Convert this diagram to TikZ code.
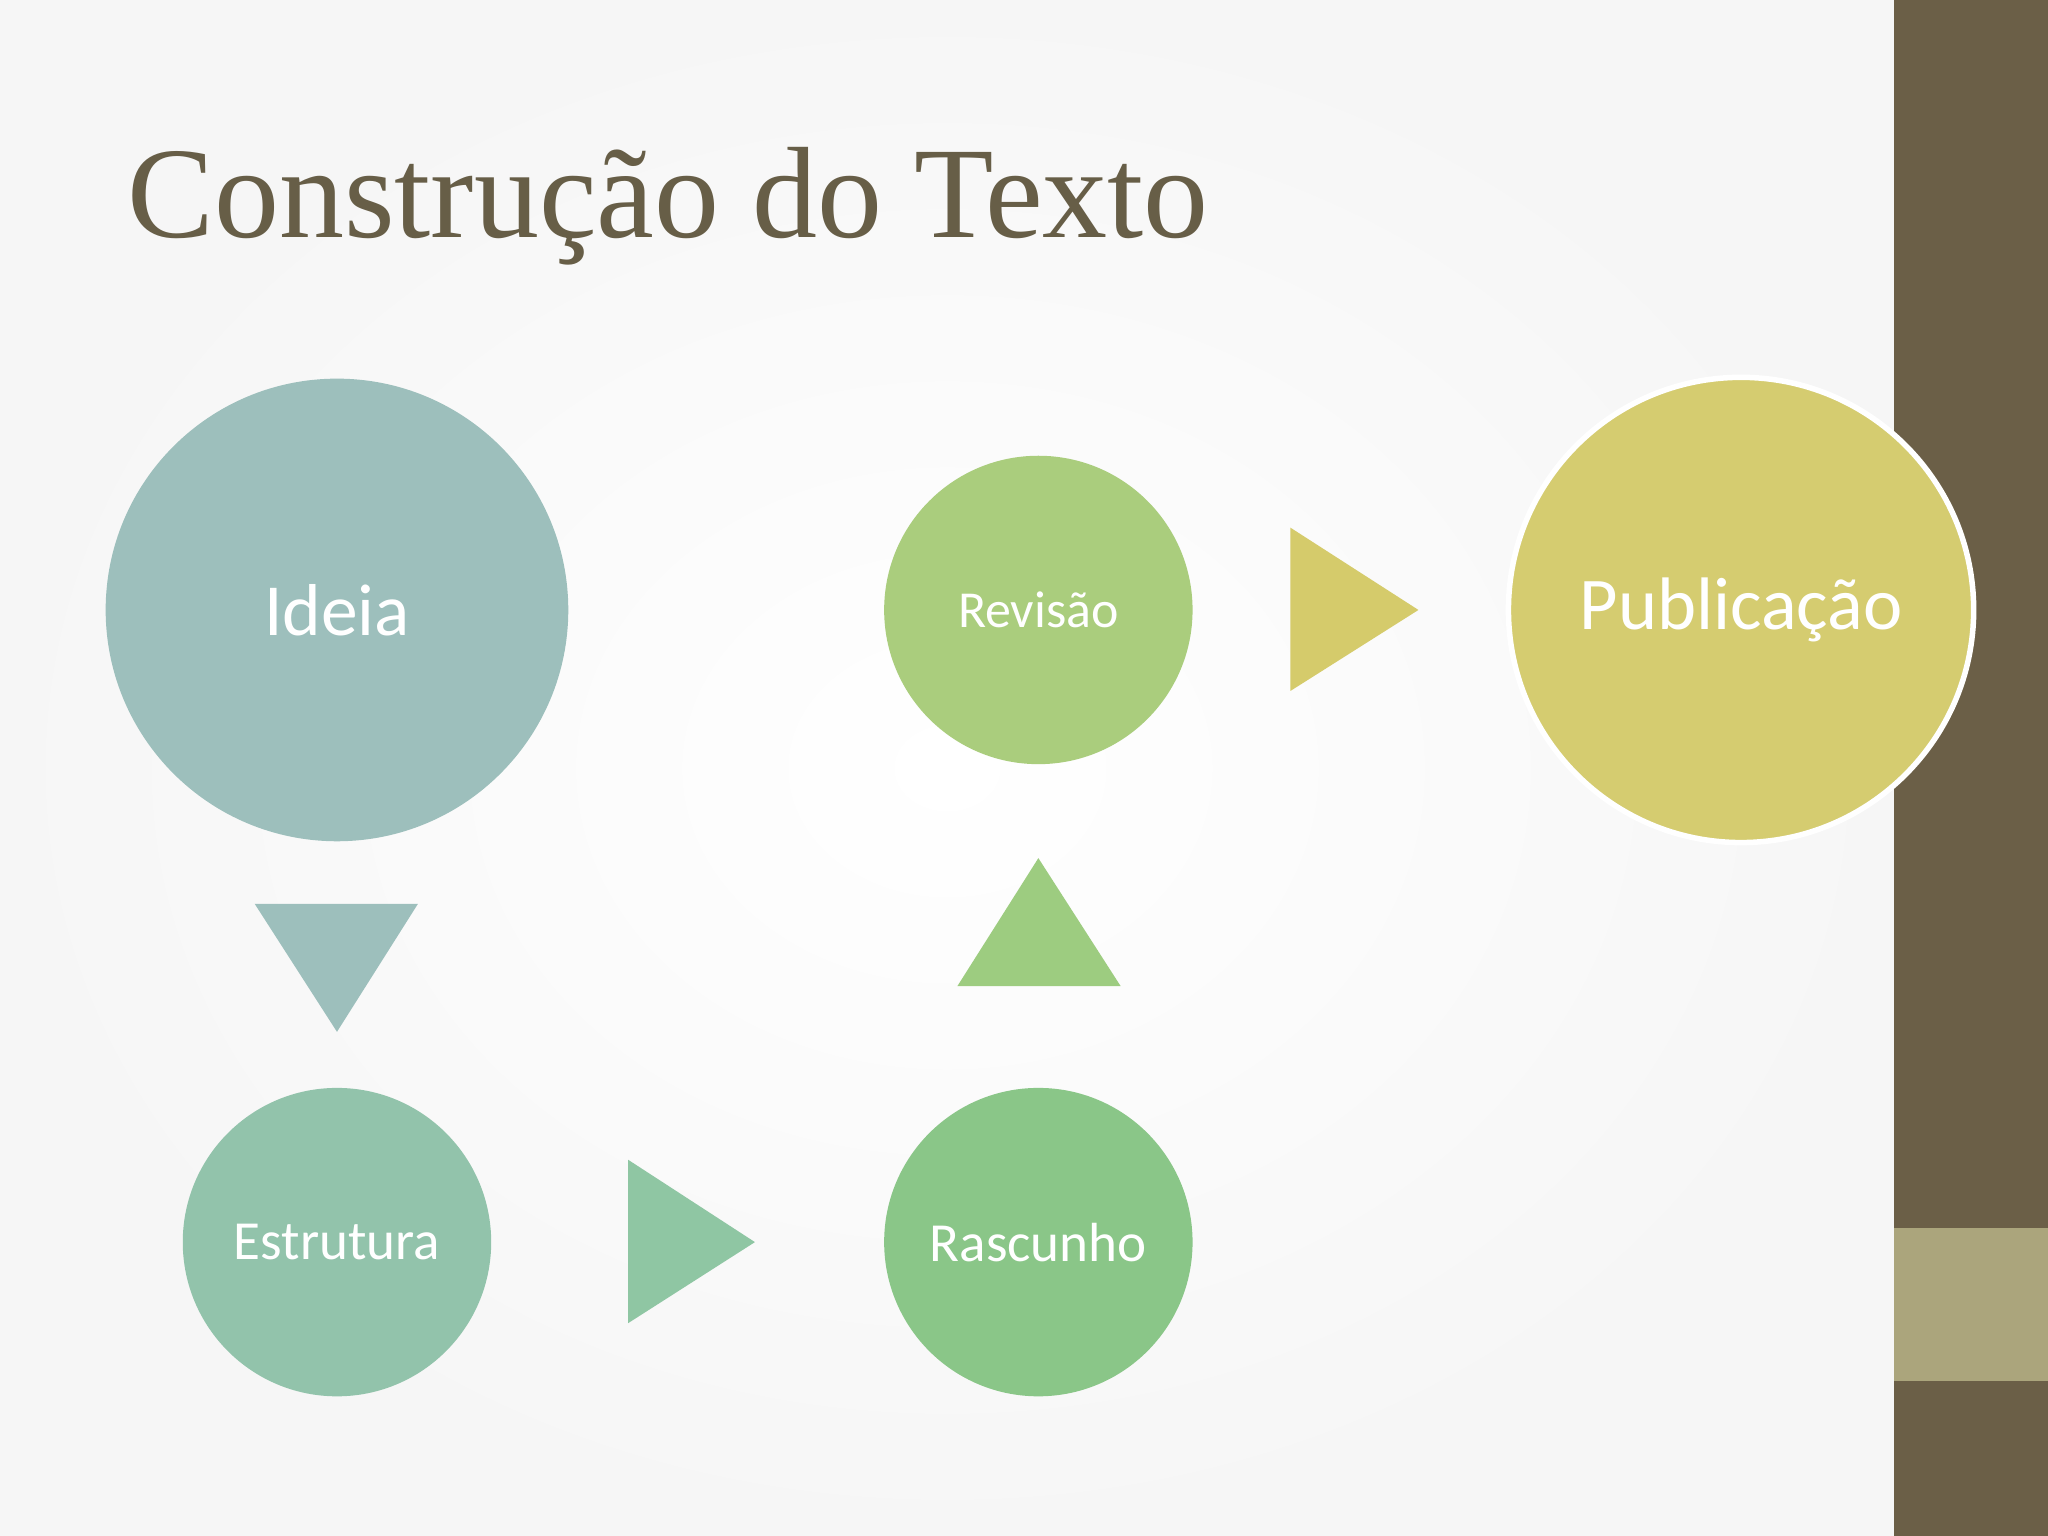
\documentclass[tikz,border=0pt]{standalone}
\usepackage{fontspec}
\setmainfont{Liberation Serif}
\newfontfamily\carl{Carlito}
\definecolor{bar}{HTML}{6B5F47}
\definecolor{band}{HTML}{ABA57C}
\definecolor{ttl}{HTML}{675E47}
\definecolor{cA}{HTML}{9DBFBC}
\definecolor{cB}{HTML}{92C3AB}
\definecolor{cC}{HTML}{8AC688}
\definecolor{cD}{HTML}{AACD7D}
\definecolor{cE}{HTML}{D5CC70}
\definecolor{tA}{HTML}{8FC6A3}
\definecolor{tB}{HTML}{9DCC80}
\definecolor{tC}{HTML}{D5CB6B}
\begin{document}
\begin{tikzpicture}[x=0.01cm,y=-0.01cm,
  circ/.style={circle,inner sep=0pt,text=white,font=\carl}]
\useasboundingbox (0,0) rectangle (1568,1176);
\shade[inner color=white,outer color=gray!7] (0,0) rectangle (1450,1176);
\fill[bar] (1450,0) rectangle (1568,1176);
\fill[band] (1450,940) rectangle (1568,1057);
\node[anchor=base west,text=ttl,font=\fontsize{28.3}{34}\selectfont,inner sep=0pt] (title) at (97,182) {Construção do Texto};
\node[circ,fill=cA,minimum size=3.54cm,font=\carl\fontsize{16}{20}\selectfont] (ideia) at (258,467) {Ideia};
\node[circ,fill=cB,minimum size=2.36cm,font=\carl\fontsize{12}{16}\selectfont] (estr) at (258,951) {Estrutura};
\node[circ,fill=cC,minimum size=2.36cm,font=\carl\fontsize{12}{16}\selectfont] (rasc) at (795,951) {Rascunho};
\node[circ,fill=cD,minimum size=2.36cm,font=\carl\fontsize{11.3}{15}\selectfont] (rev) at (795,467) {Revisão};
\node[circ,fill=cE,draw=white,line width=1.2pt,minimum size=3.56cm,font=\carl\fontsize{16.2}{21}\selectfont] (pub) at (1333,467) {Publicação};
\fill[cA] (195,692) -- (320,692) -- (258,790) -- cycle;
\fill[tA] (481,888) -- (481,1013) -- (578,951) -- cycle;
\fill[tB] (733,755) -- (858,755) -- (795,657) -- cycle;
\fill[tC] (988,404) -- (988,529) -- (1086,467) -- cycle;
\end{tikzpicture}
\end{document}
